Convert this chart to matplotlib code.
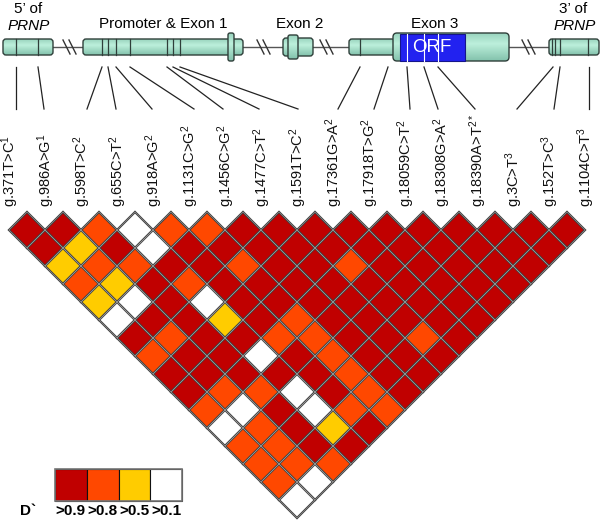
import matplotlib
matplotlib.use("Agg")
import matplotlib.pyplot as plt
from matplotlib.patches import Polygon, Rectangle, FancyBboxPatch
import numpy as np

plt.rcParams['font.family'] = ['Liberation Sans', 'DejaVu Sans']
plt.rcParams['mathtext.fontset'] = 'custom'
plt.rcParams['mathtext.rm'] = 'Liberation Sans'
plt.rcParams['mathtext.it'] = 'Liberation Sans:italic'
plt.rcParams['mathtext.bf'] = 'Liberation Sans:bold'

# ---------------- data ----------------
marker_names = ["g.371T>C", "g.986A>G", "g.598T>C", "g.655C>T", "g.918A>G",
                "g.1131C>G", "g.1456C>G", "g.1477C>T", "g.1591T>C",
                "g.17361G>A", "g.17918T>G", "g.18059C>T", "g.18308G>A",
                "g.18390A>T", "g.3C>T", "g.152T>C", "g.1104C>T"]
marker_sup = ["1", "1", "2", "2", "2", "2", "2", "2", "2",
              "2", "2", "2", "2", "2*", "3", "3", "3"]

# D' class per pair, listed by marker distance (j - i), starting with i = 0
# 0: >0.9, 1: >0.8, 2: >0.5, 3: >0.1
ld_d1 = [0, 0, 1, 3, 1, 1, 0, 0, 0, 0, 0, 0, 0, 0, 0, 0]
ld_d2 = [0, 2, 0, 3, 0, 0, 0, 0, 0, 0, 0, 0, 0, 0, 0]
ld_d3 = [2, 1, 1, 0, 0, 1, 0, 0, 1, 0, 0, 0, 0, 0]
ld_d4 = [1, 2, 0, 1, 0, 0, 0, 0, 0, 0, 0, 0, 0]
ld_d5 = [2, 3, 0, 3, 0, 0, 0, 0, 0, 0, 0, 0]
ld_d6 = [3, 0, 0, 2, 0, 1, 0, 0, 0, 0, 0]
ld_d7 = [0, 1, 0, 0, 1, 1, 0, 0, 1, 0]
ld_d8 = [1, 0, 0, 3, 0, 1, 0, 0, 0]
ld_d9 = [0, 0, 0, 0, 0, 1, 0, 0]
ld_d10 = [0, 1, 1, 3, 0, 1, 0]
ld_d11 = [1, 3, 0, 3, 1, 1]
ld_d12 = [3, 1, 0, 2, 0]
ld_d13 = [1, 1, 0, 0]
ld_d14 = [1, 1, 1]
ld_d15 = [1, 3]
ld_d16 = [3]
ld_rows = [ld_d1, ld_d2, ld_d3, ld_d4, ld_d5, ld_d6, ld_d7, ld_d8, ld_d9,
           ld_d10, ld_d11, ld_d12, ld_d13, ld_d14, ld_d15, ld_d16]

class_labels = [">0.9", ">0.8", ">0.5", ">0.1"]
class_colors = ["#C00000", "#FF4800", "#FFCC00", "#FFFFFF"]

# ---------------- layout ----------------
W, H = 600, 522
fig = plt.figure(figsize=(W / 100, H / 100), dpi=100)
ax = fig.add_axes([0, 0, 1, 1])
ax.set_xlim(0, W)
ax.set_ylim(H, 0)
ax.axis('off')

x0 = 9.0       # x of marker 0
step = 36.0    # marker spacing
half = step / 2
ytop = 212.0   # apex of first LD row

# LD diamonds
for d, row in enumerate(ld_rows, start=1):
    for i, c in enumerate(row):
        j = i + d
        cx = x0 + half * (i + j)
        cy = ytop + half * d
        verts = [(cx, cy - half), (cx + half, cy), (cx, cy + half), (cx - half, cy)]
        ax.add_patch(Polygon(verts, closed=True, facecolor=class_colors[c],
                             edgecolor='#3a3a3a', linewidth=1.6, zorder=2))
        ax.add_patch(Polygon(verts, closed=True, facecolor='none',
                             edgecolor='#9a9a9a', linewidth=0.45, zorder=3))

# marker labels
for k, (nm, sp) in enumerate(zip(marker_names, marker_sup)):
    ax.text(x0 + step * k + 1, 207, nm + r"$^{\mathregular{" + sp + "}}$",
            rotation=90, ha='center', va='bottom', fontsize=10.5, color='#111111')

# gene positions (top) and label positions (bottom) of connector lines
gene_x = [16, 38, 102, 108, 116, 130, 167, 173, 180, 360, 388, 407, 424, 438, 553, 560, 589]
conn_bottom_x = [16, 44, 87, 116, 152, 194, 223, 259, 298, 338, 374, 410, 438, 475, 517, 554, 589]
for gx, bx in zip(gene_x, conn_bottom_x):
    ax.plot([gx, bx], [67, 109], color='#222222', lw=0.9, zorder=2)

# ---------------- gene structure ----------------
grad = np.linspace(0, 1, 64)
shade = 1 - 0.6 * np.abs(grad - 0.38) / 0.62
cmap_vals = np.zeros((64, 1, 3))
light = np.array([0.74, 0.94, 0.86])
dark = np.array([0.36, 0.64, 0.55])
for n, s in enumerate(shade):
    cmap_vals[n, 0, :] = dark + (light - dark) * s


def cyl(xa, xb, ya, yb, z=3, r=3):
    p = FancyBboxPatch((xa + r, ya + r), (xb - xa) - 2 * r, (yb - ya) - 2 * r,
                       boxstyle=f"round,pad={r}", facecolor='none',
                       edgecolor='#2f3f3a', linewidth=1.0, zorder=z + 0.2)
    ax.add_patch(p)
    im = ax.imshow(cmap_vals, extent=(xa, xb, yb, ya), aspect='auto', zorder=z,
                   interpolation='bilinear')
    im.set_clip_path(p)


# backbone lines
for xa, xb in [(53, 83), (243, 283), (313, 349), (509, 549)]:
    ax.plot([xa, xb], [47, 47], color='#555555', lw=1.0, zorder=1)
# break marks
for bx in [63, 257, 320, 522]:
    for off in (0, 6):
        ax.plot([bx + off, bx + off + 7], [40, 54], color='#333333', lw=1.0, zorder=2)

cyl(3, 53, 39, 55)
cyl(83, 243, 39, 55)
cyl(228, 234, 33, 61, z=4, r=2)
cyl(283, 313, 38, 56)
cyl(288, 298, 35, 59, z=4, r=2)
cyl(349, 395, 39, 55)
cyl(393, 509, 33, 61, z=4, r=4)
ax.add_patch(Rectangle((400, 33.5), 65, 27, facecolor='#2222F0', edgecolor='#15158a',
                       lw=0.8, zorder=5))
cyl(549, 599, 39, 55)

for gx in [16, 38]:
    ax.plot([gx, gx], [39, 55], color='#2f3f3a', lw=0.9, zorder=6)
for gx in [102, 108, 116, 130, 167, 173, 180]:
    ax.plot([gx, gx], [39, 55], color='#2f3f3a', lw=0.9, zorder=6)
for gx in [360]:
    ax.plot([gx, gx], [39, 55], color='#2f3f3a', lw=0.9, zorder=6)
for gx in [552, 555, 560, 588]:
    ax.plot([gx, gx], [39, 55], color='#2f3f3a', lw=0.9, zorder=6)
for gx in [407, 424, 438]:
    ax.plot([gx, gx], [33.5, 60.5], color='white', lw=0.8, zorder=6)
ax.text(432, 48, "ORF", color='white', fontsize=13.5, ha='center', va='center', zorder=7)

# region titles
ax.text(28, 9, "5\u2019 of", fontsize=11, ha='center', va='center')
ax.text(29, 26, "PRNP", fontsize=11, style='italic', ha='center', va='center')
ax.text(163, 24, "Promoter & Exon 1", fontsize=11, ha='center', va='center')
ax.text(300, 24, "Exon 2", fontsize=11, ha='center', va='center')
ax.text(435, 24, "Exon 3", fontsize=11, ha='center', va='center')
ax.text(573, 9, "3\u2019 of", fontsize=11, ha='center', va='center')
ax.text(575, 26, "PRNP", fontsize=11, style='italic', ha='center', va='center')

# ---------------- legend ----------------
lx, ly, lw_, lh = 55, 469, 31.8, 32
for n, (col, lab) in enumerate(zip(class_colors, class_labels)):
    ax.add_patch(Rectangle((lx + n * lw_, ly), lw_, lh, facecolor=col,
                           edgecolor='#111111', lw=0.8, zorder=3))
    ax.text(lx + n * lw_ + lw_ / 2, 511, lab, fontsize=11, fontweight='bold',
            ha='center', va='center')
ax.add_patch(Rectangle((lx, ly), 4 * lw_, lh, facecolor='none',
                       edgecolor='#777777', lw=1.2, zorder=4))
ax.text(28, 511, "D`", fontsize=11, fontweight='bold', ha='center', va='center')

fig.savefig("out.png", dpi=100)
